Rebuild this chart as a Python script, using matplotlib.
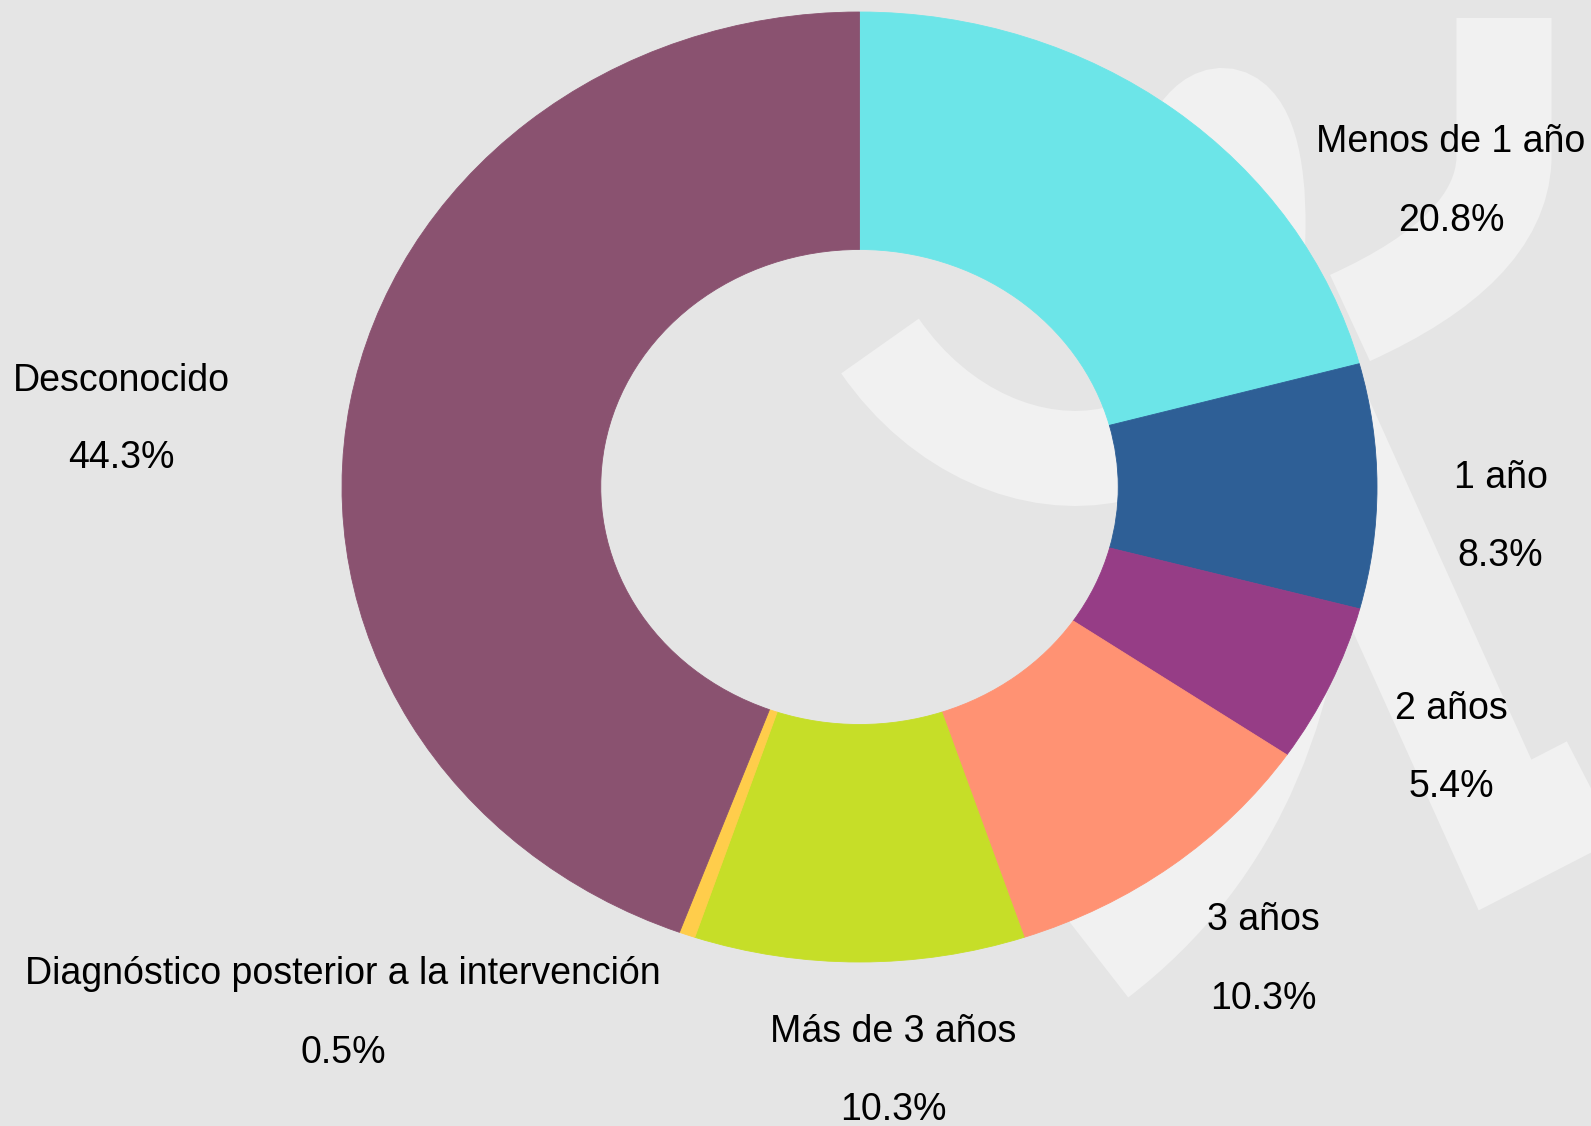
import matplotlib
matplotlib.use("Agg")
import matplotlib.pyplot as plt
from matplotlib.path import Path
from matplotlib.patches import PathPatch

# data
categories = ["Menos de 1 año", "1 año", "2 años", "3 años",
              "Más de 3 años", "Diagnóstico posterior a la intervención",
              "Desconocido"]
shares = [20.8, 8.3, 5.4, 10.3, 10.3, 0.5, 44.3]
pct_labels = ["20.8%", "8.3%", "5.4%", "10.3%", "10.3%", "0.5%", "44.3%"]
colors = ["#6ce5e8", "#2e5f96", "#963d86", "#ff9273",
          "#c6de28", "#ffcd4b", "#8a5270"]

# label layout (centre of name line, centre of pct line) in pie units
label_xy = [(1.143, 0.726, 0.560), (1.239, 0.019, -0.145),
            (1.143, -0.467, -0.632), (0.780, -0.912, -1.078),
            (0.066, -1.147, -1.312), (-0.998, -1.025, -1.192),
            (-1.427, 0.224, 0.060)]

BG = "#e5e5e5"
MARK = "#f1f1f1"
W, H = 1591, 1126

plt.rcParams['font.family'] = ['Liberation Sans', 'DejaVu Sans']

fig = plt.figure(figsize=(W / 100, H / 100), dpi=100)
fig.patch.set_facecolor(BG)

# faint watermark drawn in pixel coordinates behind the chart
bg = fig.add_axes([0, 0, 1, 1], zorder=0)
bg.set_xlim(0, W)
bg.set_ylim(H, 0)
bg.axis('off')
bg.set_facecolor(BG)


def stroke(verts, codes, width, cap="butt"):
    p = PathPatch(Path(verts, codes), facecolor="none", edgecolor=MARK,
                  linewidth=width * 72 / 100, capstyle=cap, joinstyle="miter")
    bg.add_patch(p)


M, L, C3, C4 = Path.MOVETO, Path.LINETO, Path.CURVE3, Path.CURVE4
# hook at the top right
stroke([(1504, 18), (1504, 160), (1500, 250), (1350, 318)], [M, L, C3, C3], 95)
# curl behind the hole, looping over at the top
stroke([(880, 346), (1000, 520), (1255, 500), (1258, 230),
        (1260, 85), (1200, 85), (1175, 190)],
       [M, C4, C4, C4, C4, C4, C4], 95)
# lower arc
stroke([(1096, 956), (1300, 800), (1300, 480)], [M, C3, C3], 105)
# diagonal and check arm
stroke([(1300, 380), (1505, 835), (1680, 745)], [M, L, L], 110)

ax = fig.add_axes([0, 0, 1, 1], zorder=1)
ax.patch.set_alpha(0)

wedges, _ = ax.pie(shares, colors=colors, startangle=90, counterclock=False,
                   radius=1, wedgeprops=dict(width=0.5, linewidth=0.6))
for w, c in zip(wedges, colors):
    w.set_edgecolor(c)

ax.set_aspect('auto')
cx, cy, rx, ry = 859.5, 487, 517.5, 475
ax.set_xlim(-cx / rx, (W - cx) / rx)
ax.set_ylim(-(H - cy) / ry, cy / ry)
ax.axis('off')

for name, pct, (x, y1, y2) in zip(categories, pct_labels, label_xy):
    ax.text(x, y1, name, ha='center', va='center', fontsize=27, color='black')
    ax.text(x, y2, pct, ha='center', va='center', fontsize=27, color='black')

fig.savefig("out.png", dpi=100, facecolor=BG)
